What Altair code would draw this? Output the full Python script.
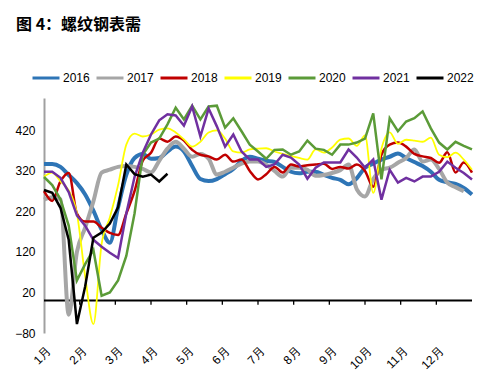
import altair as alt
import pandas as pd

title_text = "图 4：螺纹钢表需"
years = ["2016", "2017", "2018", "2019", "2020", "2021", "2022"]
colors = ["#2E75B6", "#A6A6A6", "#C00000", "#FFFF00", "#5B9B38", "#7030A0", "#000000"]
widths = [4, 4, 2.5, 1.8, 2.5, 2.5, 2.5]
interps = ["monotone", "monotone", "monotone", "monotone", "linear", "linear", "linear"]

month_labels = ["1月", "2月", "3月", "4月", "5月", "6月", "7月", "8月", "9月", "10月", "11月", "12月"]
y_ticks = [-80, 20, 120, 220, 320, 420]

# weekly values (week index 0..52)
v2016 = [337, 337, 330, 310, 290, 262, 222, 175, 143, 230, 310, 352, 362, 350, 352, 368, 380, 368, 332, 300,
         295, 300, 312, 325, 345, 355, 350, 345, 342, 330, 318, 314, 318, 318, 310, 303, 298, 287, 302, 328,
         338, 348, 355, 363, 352, 342, 332, 318, 298, 292, 288, 278, 262]
v2017 = [249, 255, 250, -35, 120, 180, 245, 316, 323, 330, 332, 330, 325, 316, 345, 375, 392, 375, 355, 362,
         350, 311, 318, 328, 338, 343, 343, 335, 320, 306, 328, 328, 323, 308, 310, 315, 322, 336, 275, 257,
         300, 323, 328, 340, 352, 373, 343, 348, 325, 291, 280, 270]
v2018 = [270, 246, 294, 315, 215, 195, 195, 180, 167, 162, 215, 270, 345, 365, 400, 392, 405, 395, 372, 360,
         356, 348, 360, 343, 348, 320, 299, 312, 330, 316, 336, 331, 334, 336, 338, 325, 330, 326, 336, 320,
         281, 360, 385, 390, 380, 362, 356, 352, 340, 366, 316, 341, 316]
v2019 = [306, 316, 294, 272, 215, 60, -58, 140, 205, 285, 385, 412, 405, 410, 422, 425, 415, 398, 380, 392,
         415, 420, 400, 368, 365, 373, 375, 376, 368, 362, 357, 352, 348, 373, 365, 378, 397, 400, 382, 408,
         266, 375, 415, 387, 397, 395, 392, 402, 360, 354, 365, 348, 323]
v2020 = [305, 285, 250, 185, 50, 90, 125, 12, 20, 50, 110, 215, 360, 390, 400, 435, 476, 447, 481, 447,
         479, 481, 427, 450, 418, 385, 368, 350, 372, 373, 360, 368, 395, 375, 372, 360, 385, 385, 390, 400,
         462, 299, 450, 418, 442, 450, 467, 425, 390, 373, 392, 382, 373]
v2021 = [318, 318, 303, 268, 210, 185, 150, 133, 118, 105, 215, 305, 365, 410, 445, 460, 457, 432, 479, 405,
         474, 430, 380, 410, 368, 348, 348, 330, 336, 360, 353, 336, 301, 328, 341, 341, 341, 373, 353, 328,
         348, 249, 323, 291, 303, 294, 306, 306, 318, 343, 328, 315, 299]
v2022 = [273, 266, 229, 150, -58, 35, 155, 168, 190, 230, 336, 312, 306, 311, 294, 313]

series = [v2016, v2017, v2018, v2019, v2020, v2021, v2022]

rows = []
for yr, vals in zip(years, series):
    for i, v in enumerate(vals):
        rows.append({"year": yr, "m": i * 12 / 52, "v": v})
df = pd.DataFrame(rows)

font = "Liberation Sans, Arial, sans-serif"

xscale = alt.Scale(domain=[0, 12], nice=False, zero=False)
yscale = alt.Scale(domain=[-80, 500], nice=False, zero=False)
cscale = alt.Scale(domain=years, range=colors)

y_axis = alt.Axis(values=y_ticks, domain=True, domainColor="#A0A0A0", domainWidth=2,
                  ticks=False, grid=False, title=None, labelPadding=9, labelOverlap=False,
                  labelFont=font, labelFontSize=12, labelColor="#000")

legend = alt.Legend(orient="none", legendX=-13, legendY=-35, direction="horizontal", columns=7,
                    symbolType="stroke", symbolSize=729, symbolStrokeWidth=3, title=None,
                    labelFont=font, labelFontSize=12, labelColor="#000", labelOffset=2,
                    columnPadding=0, padding=0, symbolOpacity=1)

layers = []

# zero line with month ticks
zero = alt.Chart(pd.DataFrame({"a": [0]})).mark_rule(color="#000", strokeWidth=2).encode(
    x=alt.X("a:Q", scale=xscale, axis=None),
    x2=alt.datum(12),
    y=alt.Y("a:Q", scale=yscale, axis=y_axis),
)
tick_df = pd.DataFrame({"m": list(range(1, 12)), "y0": 0, "y1": -10})
ticks = alt.Chart(tick_df).mark_rule(color="#000", strokeWidth=1.3).encode(
    x=alt.X("m:Q", scale=xscale, axis=None), y=alt.Y("y0:Q", scale=yscale), y2="y1:Q"
)
lab_df = pd.DataFrame({"m": list(range(12)), "lab": month_labels})
month_text = alt.Chart(lab_df).mark_text(
    angle=315, align="right", baseline="top", font=font, fontSize=12, color="#000", dx=2
).encode(x=alt.X("m:Q", scale=xscale, axis=None), y=alt.value(249), text="lab:N")
layers += [zero, ticks, month_text]

for yr, w, ip in zip(years, widths, interps):
    ln = alt.Chart(df).transform_filter(alt.datum.year == yr).mark_line(
        strokeWidth=w, interpolate=ip
    ).encode(
        x=alt.X("m:Q", scale=xscale, axis=None),
        y=alt.Y("v:Q", scale=yscale),
        color=alt.Color("year:N", scale=cscale, legend=legend),
    )
    layers.append(ln)

title = alt.Chart(pd.DataFrame({"t": [title_text]})).mark_text(
    align="left", baseline="alphabetic", fontSize=16, fontWeight="bold",
    font="Noto Sans CJK SC", color="#000"
).encode(text="t:N", x=alt.value(-28), y=alt.value(-68))
layers.append(title)

chart = alt.layer(*layers).properties(
    width=428, height=235,
    autosize=alt.AutoSizeParams(type="none"),
    padding={"left": 36, "top": 90, "right": 5, "bottom": 44},
).configure_view(stroke=None)

chart.save("out.html", embed_options={"renderer": "svg", "actions": False})
